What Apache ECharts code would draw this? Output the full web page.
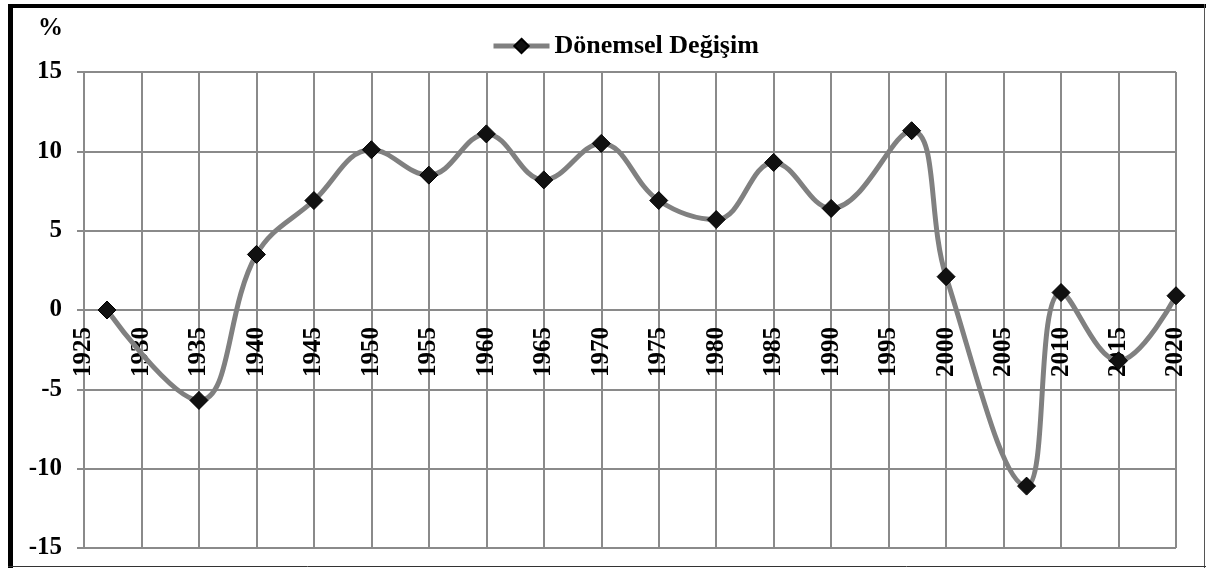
<!DOCTYPE html>
<html>
<head>
<meta charset="utf-8">
<script src="https://cdn.jsdelivr.net/npm/echarts@6/dist/echarts.min.js"></script>
<style>
  html, body { margin: 0; padding: 0; background: #fff; }
  #main { width: 1206px; height: 568px; }
</style>
</head>
<body>
<div id="main"></div>
<script>
// yıllar ve dönemsel değişim (%)
const years = [1927, 1935, 1940, 1945, 1950, 1955, 1960, 1965, 1970, 1975, 1980, 1985, 1990, 1997, 2000, 2007, 2010, 2015, 2020]
const changes = [0, -5.7, 3.5, 6.9, 10.1, 8.5, 11.1, 8.2, 10.5, 6.9, 5.7, 9.3, 6.4, 11.3, 2.1, -11.1, 1.1, -3.2, 0.9]
const seriesName = 'Dönemsel Değişim'

const font = 'Liberation Serif'
const gridColor = '#8a8a8a'
const plotHeight = 476   // 568 - 72 - 20

let points = []
for (let i = 0; i < years.length; i++) {
  points[i] = [years[i], changes[i]]
}

let myChart = echarts.init(document.getElementById('main'))
myChart.setOption({
  animation: false,
  grid: { left: 84, right: 30, top: 72, bottom: 20, containLabel: false, outerBoundsMode: 'none' },
  legend: {
    left: 486,
    top: 28,
    itemWidth: 56,
    itemHeight: 18,
    itemGap: 4,
    lineStyle: { color: '#808080', width: 5 },
    textStyle: { fontFamily: font, fontWeight: 'bold', fontSize: 26, color: '#000' },
    data: [seriesName]
  },
  xAxis: {
    type: 'value',
    min: 1925,
    max: 2020,
    interval: 5,
    // yıl etiketleri sıfır çizgisinin altında
    offset: -plotHeight / 2,
    axisLine: { onZero: false, lineStyle: { color: gridColor, width: 2 } },
    axisTick: { show: false },
    axisLabel: {
      rotate: 90,
      margin: 17,
      fontFamily: font,
      fontWeight: 'bold',
      fontSize: 25,
      color: '#000',
      formatter: v => String(v)
    },
    splitLine: { show: true, lineStyle: { color: gridColor, width: 2 } }
  },
  yAxis: {
    type: 'value',
    min: -15,
    max: 15,
    interval: 5,
    name: '%',
    nameLocation: 'end',
    nameGap: 31,
    nameTextStyle: {
      fontFamily: font, fontWeight: 'bold', fontSize: 25, color: '#000',
      align: 'right', verticalAlign: 'bottom', padding: [0, 21, 0, 0]
    },
    axisLine: { show: true, onZero: false, lineStyle: { color: gridColor, width: 2 } },
    axisTick: { show: true, inside: false, length: 7, lineStyle: { color: gridColor, width: 2 } },
    axisLabel: { margin: 22, fontFamily: font, fontWeight: 'bold', fontSize: 25, color: '#000' },
    splitLine: { show: true, lineStyle: { color: gridColor, width: 2 } }
  },
  series: [{
    name: seriesName,
    type: 'line',
    smooth: 0.4,
    data: points,
    symbol: 'diamond',
    symbolSize: 18,
    itemStyle: { color: '#111', borderColor: '#000', borderWidth: 1 },
    lineStyle: { color: '#808080', width: 5 },
    z: 3
  }],
  graphic: [
    // çerçeve
    { type: 'rect', shape: { x: 8, y: 4, width: 1198, height: 4 }, style: { fill: '#000' }, silent: true },
    { type: 'rect', shape: { x: 8, y: 4, width: 5, height: 564 }, style: { fill: '#000' }, silent: true },
    { type: 'line', shape: { x1: 1204.5, y1: 4, x2: 1204.5, y2: 568 }, style: { stroke: '#555', lineWidth: 1 }, silent: true },
    { type: 'line', shape: { x1: 8, y1: 566.5, x2: 1206, y2: 566.5 }, style: { stroke: '#333', lineWidth: 1 }, silent: true }
  ]
})
</script>
</body>
</html>
